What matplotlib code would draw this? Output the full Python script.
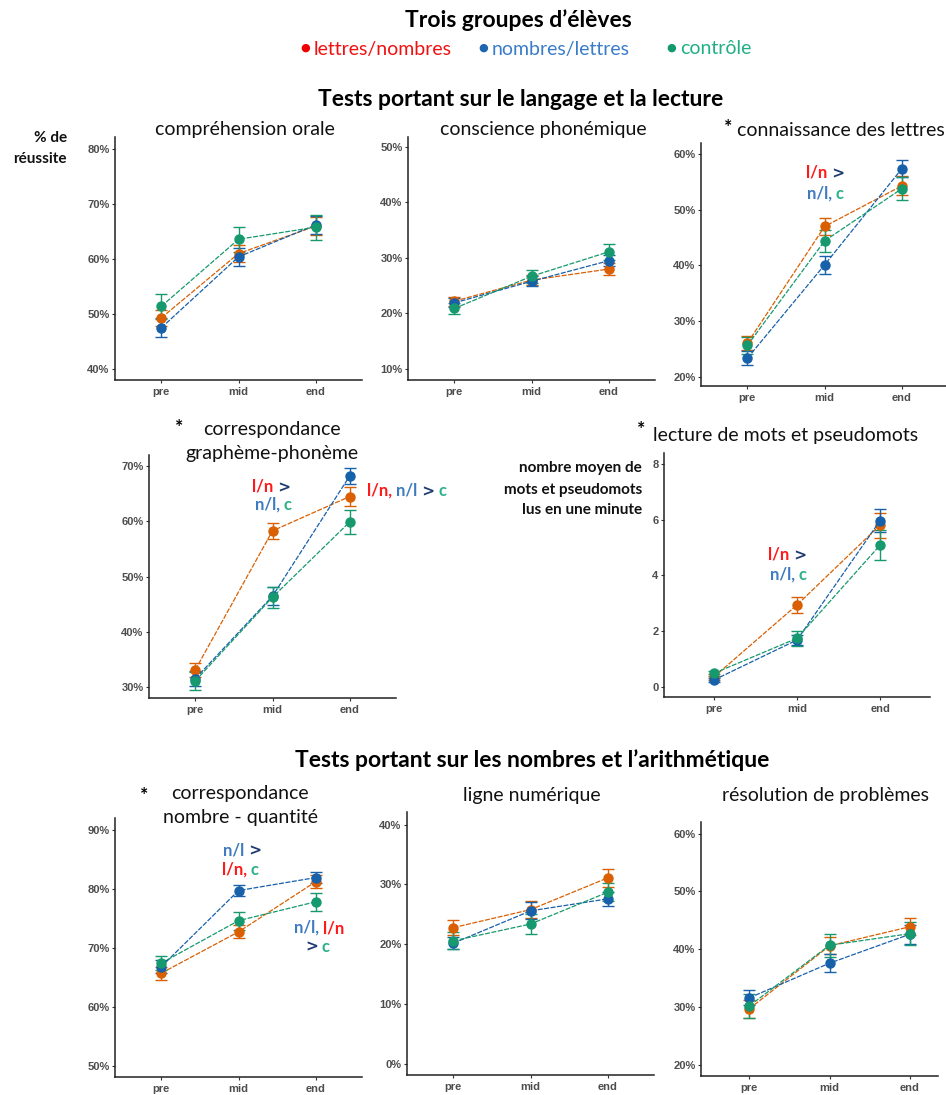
import numpy as np
import matplotlib
matplotlib.use("Agg")
import matplotlib.pyplot as plt
from matplotlib.text import Annotation

# ---- data (means and error bars, order: l/n, n/l, controle) ----
temps = ["pre", "mid", "end"]

comp_orale = [[49.3, 61.0, 66.0], [47.5, 60.4, 66.2], [51.4, 63.6, 65.8]]
comp_orale_err = [[1.5, 1.5, 1.6], [1.7, 1.6, 1.6], [2.3, 2.3, 2.3]]

conscience = [[22.2, 26.0, 28.0], [21.9, 25.8, 29.5], [20.9, 26.7, 31.1]]
conscience_err = [[0.8, 0.9, 1.0], [0.8, 0.9, 1.0], [1.0, 1.2, 1.4]]

lettres = [[26.0, 47.0, 54.3], [23.3, 40.1, 57.4], [25.6, 44.4, 53.8]]
lettres_err = [[1.3, 1.6, 1.7], [1.3, 1.6, 1.5], [1.6, 2.0, 2.0]]

graph_phon = [[33.2, 58.3, 64.5], [31.6, 46.5, 68.2], [31.2, 46.3, 59.9]]
graph_phon_err = [[1.3, 1.5, 1.7], [1.3, 1.6, 1.4], [1.6, 1.9, 2.1]]

lecture = [[0.35, 2.94, 5.81], [0.24, 1.68, 5.97], [0.48, 1.74, 5.09]]
lecture_err = [[0.1, 0.28, 0.45], [0.08, 0.18, 0.4], [0.1, 0.28, 0.55]]

nb_quant = [[65.7, 72.7, 81.2], [66.8, 79.7, 81.9], [67.4, 74.6, 77.8]]
nb_quant_err = [[1.1, 1.1, 1.1], [1.1, 1.0, 1.0], [1.2, 1.5, 1.5]]

ligne = [[22.8, 25.8, 31.1], [20.2, 25.6, 27.6], [20.6, 23.4, 28.7]]
ligne_err = [[1.3, 1.4, 1.5], [1.0, 1.4, 1.2], [1.4, 1.7, 1.5]]

resolution = [[29.7, 40.6, 43.9], [31.6, 37.6, 42.6], [30.2, 40.7, 42.7]]
resolution_err = [[1.6, 1.5, 1.5], [1.3, 1.6, 1.6], [2.0, 2.0, 2.0]]

groupes = ["lettres/nombres", "nombres/lettres", "contrôle"]
cols = ["#D95F02", "#1760AA", "#16996E"]

RED = "#FF1A1A"
NL = "#3F7BC1"
CC = "#2BB08A"
NAVY = "#1F3A70"

W, H = 946, 1095
fig = plt.figure(figsize=(W / 100, H / 100), dpi=100)
TF = "Lato"
TK = "Liberation Sans"


def fx(x):
    return x / W


def fy(y):
    return 1 - y / H


def panel(left, top, right, bottom, means, errs, ylim, yticks, xlim=(0.4, 3.6), pct=True):
    ax = fig.add_axes([fx(left), fy(bottom), (right - left) / W, (bottom - top) / H])
    x = np.arange(1, 4)
    for m, e, c in zip(means, errs, cols):
        ax.errorbar(x, m, yerr=e, color=c, lw=0.9, ls=(0, (4, 1.2)), marker="o",
                    ms=6.5, capsize=4, capthick=1, elinewidth=1)
    ax.set_xlim(*xlim)
    ax.set_ylim(*ylim)
    ax.set_xticks(x)
    ax.set_xticklabels(temps)
    ax.set_yticks(yticks)
    if pct:
        ax.set_yticklabels([f"{t}%" for t in yticks])
    for s in ["top", "right"]:
        ax.spines[s].set_visible(False)
    for s in ["left", "bottom"]:
        ax.spines[s].set_linewidth(1.1)
        ax.spines[s].set_color("#222222")
    ax.tick_params(length=2, width=0.8, color="#333333", labelcolor="#4D4D4D",
                   labelsize=8, pad=2)
    ax.tick_params(axis="x", pad=3)
    for lb in ax.get_xticklabels() + ax.get_yticklabels():
        lb.set_fontfamily(TK)
        lb.set_fontweight("bold")
    return ax


def chain(x, y, parts, size=12):
    # pieces of differently coloured text, each one placed right after the previous
    prev = None
    for s, c in parts:
        fam = ["DejaVu Sans"] if ">" in s else TF
        fs = size - 1 if ">" in s else size
        if prev is None:
            prev = fig.text(fx(x), fy(y), s, color=c, fontsize=fs, fontweight="bold",
                            family=fam, va="center", ha="left")
        else:
            a = Annotation(s, xy=(1, 0), xycoords=prev, color=c, fontsize=fs,
                           fontweight="bold", family=fam, va="bottom", ha="left")
            fig.add_artist(a)
            prev = a


# ---- panels ----
panel(115, 137, 362, 380, comp_orale, comp_orale_err, (38.0, 82.2), [40, 50, 60, 70, 80])
panel(408, 137, 655, 380, conscience, conscience_err, (8.0, 51.8), [10, 20, 30, 40, 50])
panel(701, 143, 946, 386, lettres, lettres_err, (18.3, 62.0), [20, 30, 40, 50, 60], xlim=(0.4, 3.57))
panel(149, 455, 396, 698, graph_phon, graph_phon_err, (28.1, 72.0), [30, 40, 50, 60, 70])
panel(664, 453, 930, 697, lecture, lecture_err, (-0.37, 8.4), [0, 2, 4, 6, 8], pct=False)
panel(115, 818, 362, 1077, nb_quant, nb_quant_err, (48.1, 92.0), [50, 60, 70, 80, 90])
panel(407, 812, 654, 1075, ligne, ligne_err, (-1.8, 42.1), [0, 10, 20, 30, 40])
panel(701, 822, 938, 1076, resolution, resolution_err, (18.1, 62.0), [20, 30, 40, 50, 60], xlim=(0.4, 3.35))

# ---- headers ----
fig.text(fx(518), fy(20), "Trois groupes d\u2019élèves", fontsize=16.5, fontweight="bold",
         family=TF, ha="center", va="center", color="black")
leg_x = [305, 483, 671]
leg_txt_cols = ["#F01010", "#3A7CC8", "#1FAF85"]
leg_dot_cols = ["#F00000", "#1F66B0", "#129A6C"]
for lx, g, tc, dc in zip(leg_x, groupes, leg_txt_cols, leg_dot_cols):
    fig.text(fx(lx), fy(48), "\u25CF", fontsize=8, color=dc, ha="center", va="center",
             family="DejaVu Sans")
    fig.text(fx(lx + 9), fy(49), g, fontsize=14, color=tc, ha="left", va="center", family=TF)

fig.text(fx(521), fy(99), "Tests portant sur le langage et la lecture", fontsize=16.5,
         fontweight="bold", family=TF, ha="center", va="center")
fig.text(fx(532), fy(760), "Tests portant sur les nombres et l\u2019arithmétique", fontsize=16.5,
         fontweight="bold", family=TF, ha="center", va="center")

# ---- panel titles ----
tkw = dict(fontsize=14, family=TF, va="center", color="#111111")
skw = dict(ha="center", fontsize=14, fontweight="bold", family=TF, va="center")
fig.text(fx(245), fy(130), "compréhension orale", ha="center", **tkw)
fig.text(fx(543), fy(130), "conscience phonémique", ha="center", **tkw)
fig.text(fx(728), fy(127), "*", **skw)
fig.text(fx(737), fy(130), "connaissance des lettres", ha="left", **tkw)

fig.text(fx(179), fy(427), "*", **skw)
fig.text(fx(272), fy(430), "correspondance", ha="center", **tkw)
fig.text(fx(272), fy(454), "graphème-phonème", ha="center", **tkw)

fig.text(fx(641), fy(430), "*", **skw)
fig.text(fx(653), fy(435), "lecture de mots et pseudomots", ha="left", **tkw)

fig.text(fx(144), fy(796), "*", **skw)
fig.text(fx(240), fy(793), "correspondance", ha="center", **tkw)
fig.text(fx(240), fy(818), "nombre - quantité", ha="center", **tkw)
fig.text(fx(532), fy(795), "ligne numérique", ha="center", **tkw)
fig.text(fx(825), fy(796), "résolution de problèmes", ha="center", **tkw)

# ---- y labels ----
ykw = dict(fontsize=11, fontweight="bold", family=TF, ha="right", va="center", color="#111111")
fig.text(fx(67), fy(138), "% de", **ykw)
fig.text(fx(67), fy(159), "réussite", **ykw)
fig.text(fx(642), fy(468), "nombre moyen de", **ykw)
fig.text(fx(642), fy(490), "mots et pseudomots", **ykw)
fig.text(fx(642), fy(510), "lus en une minute", **ykw)

# ---- significance annotations ----
chain(806, 173, [("l/n", RED), (" >", NAVY)])
chain(807, 194, [("n/l,", NL), (" c", CC)])
chain(252, 487, [("l/n", RED), (" >", NAVY)])
chain(255, 505, [("n/l,", NL), (" c", CC)])
chain(367, 491, [("l/n,", RED), (" n/l", NL), (" >", NAVY), (" c", CC)])
chain(768, 555, [("l/n", RED), (" >", NAVY)])
chain(770, 575, [("n/l,", NL), (" c", CC)])
chain(223, 850, [("n/l", NL), (" >", NAVY)])
chain(222, 870, [("l/n,", RED), (" c", CC)])
chain(294, 928, [("n/l,", NL), (" l/n", RED)])
chain(305, 947, [(">", NAVY), (" c", CC)])

fig.savefig("out.png", dpi=100)
